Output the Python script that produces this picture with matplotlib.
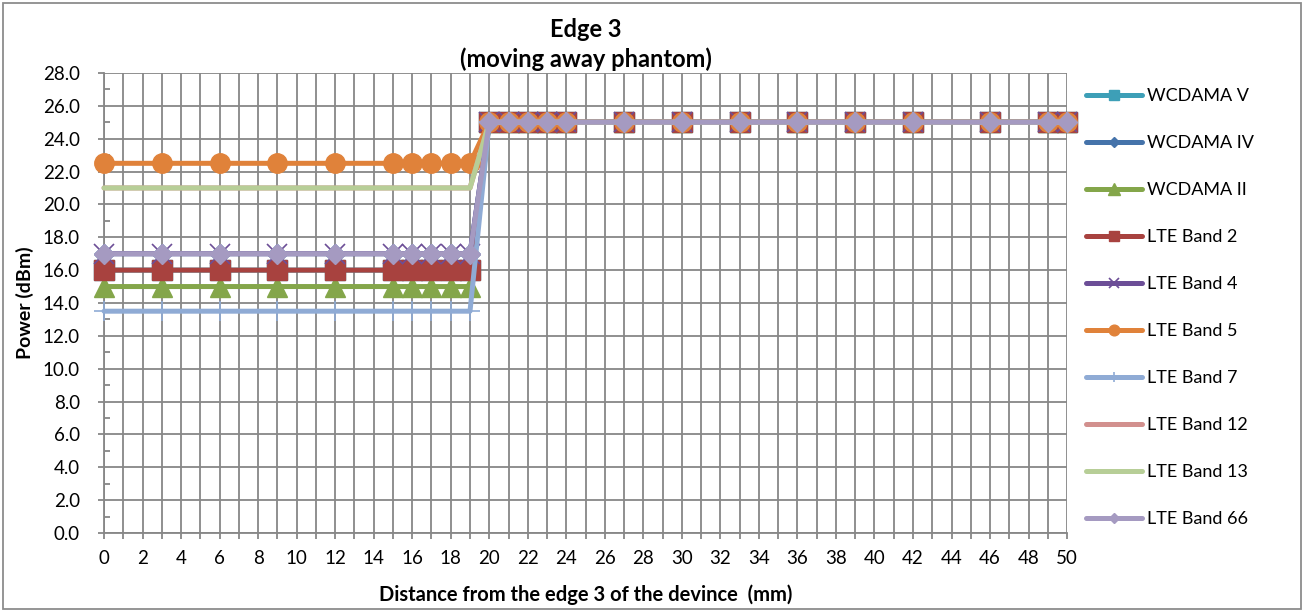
import matplotlib
matplotlib.use("Agg")
import matplotlib.pyplot as plt
from matplotlib.patches import Rectangle
from matplotlib.ticker import MultipleLocator, FormatStrFormatter

plt.rcParams['font.family'] = ['Lato', 'DejaVu Sans']

distance = [0, 3, 6, 9, 12, 15, 16, 17, 18, 19, 20, 21, 22, 23, 24,
            27, 30, 33, 36, 39, 42, 46, 49, 50]

wcdma_v = [16.0, 16.0, 16.0, 16.0, 16.0, 16.0, 16.0, 16.0, 16.0, 16.0,
           25.0, 25.0, 25.0, 25.0, 25.0, 25.0, 25.0, 25.0, 25.0, 25.0, 25.0, 25.0, 25.0, 25.0]
wcdma_iv = [17.0, 17.0, 17.0, 17.0, 17.0, 17.0, 17.0, 17.0, 17.0, 17.0,
            25.0, 25.0, 25.0, 25.0, 25.0, 25.0, 25.0, 25.0, 25.0, 25.0, 25.0, 25.0, 25.0, 25.0]
wcdma_ii = [15.0, 15.0, 15.0, 15.0, 15.0, 15.0, 15.0, 15.0, 15.0, 15.0,
            25.0, 25.0, 25.0, 25.0, 25.0, 25.0, 25.0, 25.0, 25.0, 25.0, 25.0, 25.0, 25.0, 25.0]
lte_b2 = [16.0, 16.0, 16.0, 16.0, 16.0, 16.0, 16.0, 16.0, 16.0, 16.0,
          25.0, 25.0, 25.0, 25.0, 25.0, 25.0, 25.0, 25.0, 25.0, 25.0, 25.0, 25.0, 25.0, 25.0]
lte_b4 = [17.0, 17.0, 17.0, 17.0, 17.0, 17.0, 17.0, 17.0, 17.0, 17.0,
          25.0, 25.0, 25.0, 25.0, 25.0, 25.0, 25.0, 25.0, 25.0, 25.0, 25.0, 25.0, 25.0, 25.0]
lte_b5 = [22.5, 22.5, 22.5, 22.5, 22.5, 22.5, 22.5, 22.5, 22.5, 22.5,
          25.0, 25.0, 25.0, 25.0, 25.0, 25.0, 25.0, 25.0, 25.0, 25.0, 25.0, 25.0, 25.0, 25.0]
lte_b7 = [13.5, 13.5, 13.5, 13.5, 13.5, 13.5, 13.5, 13.5, 13.5, 13.5,
          25.0, 25.0, 25.0, 25.0, 25.0, 25.0, 25.0, 25.0, 25.0, 25.0, 25.0, 25.0, 25.0, 25.0]
lte_b12 = [21.0, 21.0, 21.0, 21.0, 21.0, 21.0, 21.0, 21.0, 21.0, 21.0,
           25.0, 25.0, 25.0, 25.0, 25.0, 25.0, 25.0, 25.0, 25.0, 25.0, 25.0, 25.0, 25.0, 25.0]
lte_b13 = [21.0, 21.0, 21.0, 21.0, 21.0, 21.0, 21.0, 21.0, 21.0, 21.0,
           25.0, 25.0, 25.0, 25.0, 25.0, 25.0, 25.0, 25.0, 25.0, 25.0, 25.0, 25.0, 25.0, 25.0]
lte_b66 = [17.0, 17.0, 17.0, 17.0, 17.0, 17.0, 17.0, 17.0, 17.0, 17.0,
           25.0, 25.0, 25.0, 25.0, 25.0, 25.0, 25.0, 25.0, 25.0, 25.0, 25.0, 25.0, 25.0, 25.0]

series_names = ["WCDAMA V", "WCDAMA IV", "WCDAMA II", "LTE Band 2", "LTE Band 4",
                "LTE Band 5", "LTE Band 7", "LTE Band 12", "LTE Band 13", "LTE Band 66"]
series_values = [wcdma_v, wcdma_iv, wcdma_ii, lte_b2, lte_b4,
                 lte_b5, lte_b7, lte_b12, lte_b13, lte_b66]

styles = [
    dict(color="#3D9FB7", marker="s", ms=14),
    dict(color="#4573AA", marker="D", ms=10),
    dict(color="#84A64A", marker="^", ms=15),
    dict(color="#A8423F", marker="s", ms=14),
    dict(color="#6C4E97", marker="x", ms=14, mew=1.2),
    dict(color="#E0823A", marker="o", ms=14),
    dict(color="#8FABD5", marker="+", ms=14, mew=1.2),
    dict(color="#D2908E", marker=None, ms=0),
    dict(color="#B7CE97", marker=None, ms=0),
    dict(color="#A59AC1", marker="D", ms=10),
]

fig = plt.figure(figsize=(13.04, 6.13), dpi=100)
ax = fig.add_axes([0.0798, 0.1305, 0.7385, 0.7505])

for name, vals, st in zip(series_names, series_values, styles):
    mew = st.get("mew", 1.0)
    ax.plot(distance, vals, color=st["color"], lw=3.6, marker=st["marker"],
            markersize=st["ms"], markeredgecolor=st["color"],
            markerfacecolor=st["color"], markeredgewidth=mew,
            label=name, solid_capstyle="round", solid_joinstyle="round",
            clip_on=False, zorder=3)

ax.set_xlim(0, 50)
ax.set_ylim(0, 28)

grid_color = "#878787"
ax.xaxis.set_major_locator(MultipleLocator(2))
ax.xaxis.set_minor_locator(MultipleLocator(1))
ax.yaxis.set_major_locator(MultipleLocator(2))
ax.yaxis.set_minor_locator(MultipleLocator(1))
ax.yaxis.set_major_formatter(FormatStrFormatter("%.1f"))

ax.grid(True, which="major", axis="both", color=grid_color, lw=1.3, zorder=0)
ax.grid(True, which="minor", axis="x", color=grid_color, lw=1.3, zorder=0)
ax.set_axisbelow(True)

ax.tick_params(axis="x", which="both", direction="out", length=4.5, width=1.3,
               color=grid_color, labelsize=13.5, pad=8)
ax.tick_params(axis="y", which="major", direction="out", length=4.5, width=1.3,
               color=grid_color, labelsize=13.5, pad=13)
ax.tick_params(axis="y", which="minor", direction="in", length=4.5, width=1.3,
               color=grid_color)

for side in ["top", "right"]:
    ax.spines[side].set_visible(False)
for side in ["left", "bottom"]:
    ax.spines[side].set_color(grid_color)
    ax.spines[side].set_linewidth(1.3)

ax.set_title("Edge 3\n(moving away phantom)", fontsize=17, fontweight="bold",
             linespacing=1.35, pad=4)
ax.set_xlabel("Distance from the edge 3 of the devince  (mm)", fontsize=14.5,
              fontweight="bold", labelpad=12)
ax.set_ylabel("Power (dBm)", fontsize=14, fontweight="bold", labelpad=6)

leg = ax.legend(loc="upper left", bbox_to_anchor=(1.012, 0.983), frameon=False,
                fontsize=13, handlelength=3.1, labelspacing=1.72,
                handletextpad=0.3, markerscale=0.55, borderaxespad=0)

fig.patches.append(Rectangle((0.0025, 0.006), 0.995, 0.989, transform=fig.transFigure,
                             fill=False, edgecolor="#8C8C8C", lw=1.3))

fig.savefig("out.png", dpi=100)
